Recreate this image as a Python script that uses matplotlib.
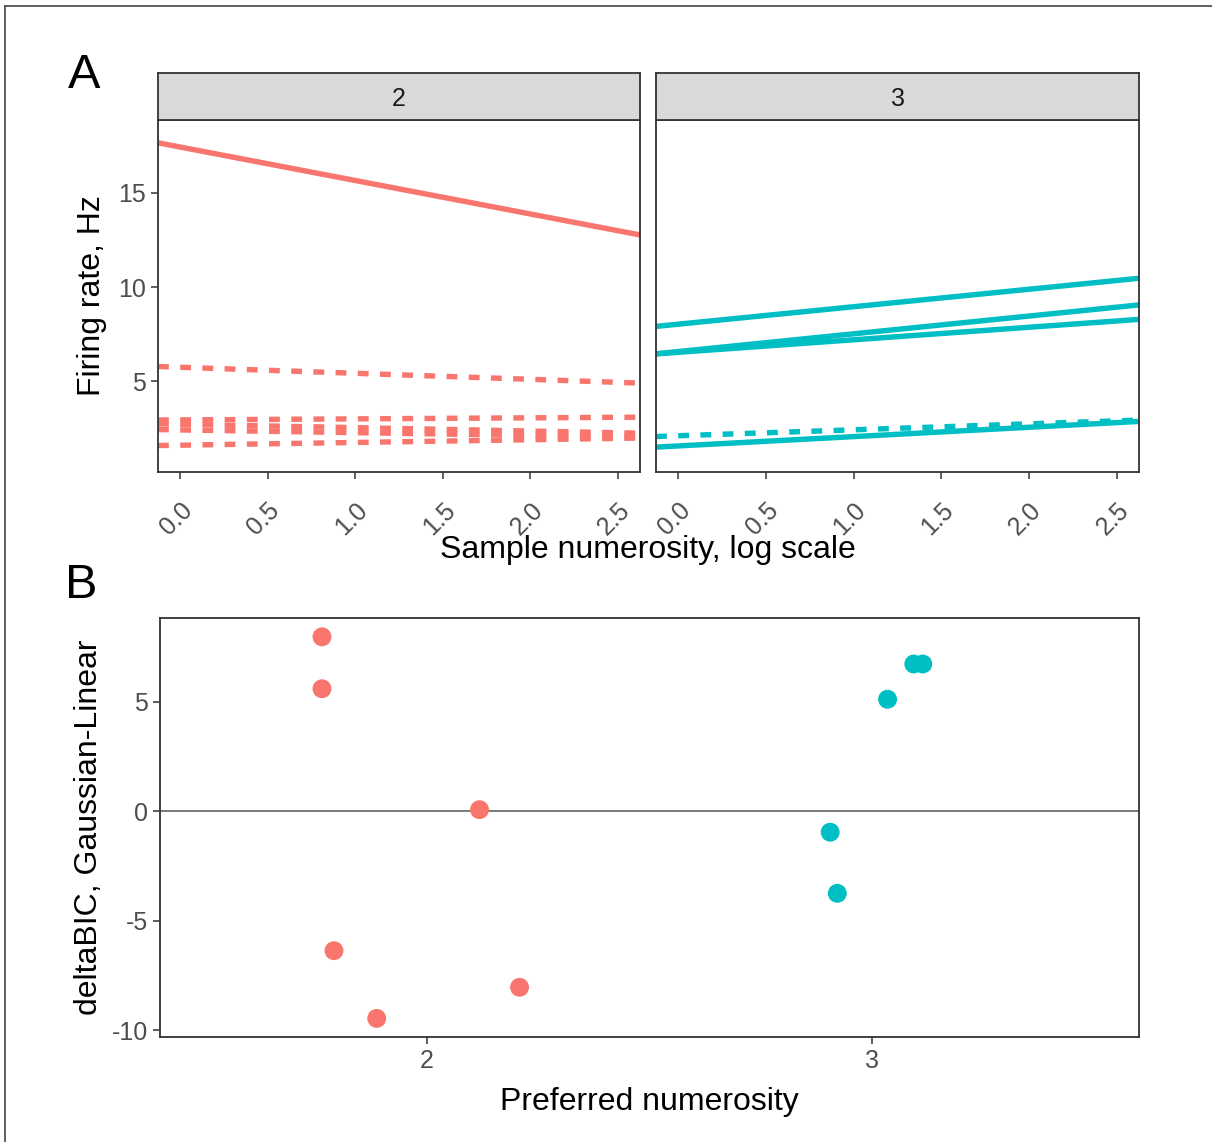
import numpy as np
import matplotlib.pyplot as plt
from matplotlib.lines import Line2D

plt.rcParams['font.family'] = ['Liberation Sans', 'DejaVu Sans']
plt.rcParams['axes.unicode_minus'] = False

RED = '#F8766D'
TEAL = '#00BFC4'

# panel A: linear fits, firing rate vs log sample numerosity
facet_labels = ['2', '3']

pref2_intercept = [17.42, 5.75, 2.96, 2.73, 2.43, 1.62]
pref2_slope = [-1.775, -0.32, 0.055, -0.18, -0.145, 0.145]
pref2_dashed = [False, True, True, True, True, True]

pref3_intercept = [8.03, 6.58, 6.54, 1.58, 2.12]
pref3_slope = [0.927, 0.942, 0.665, 0.495, 0.316]
pref3_dashed = [False, False, False, False, True]

x_ticks = [0.0, 0.5, 1.0, 1.5, 2.0, 2.5]
y_ticks_a = [5, 10, 15]

# panel B: deltaBIC per neuron (x jittered around preferred numerosity)
pref_num_2 = [1.764, 1.764, 2.118, 1.791, 1.887, 2.208]
dbic_2 = [7.97, 5.6, 0.08, -6.36, -9.45, -8.03]
pref_num_3 = [3.094, 3.114, 3.035, 2.906, 2.922]
dbic_3 = [6.73, 6.73, 5.12, -0.95, -3.74]

W, H = 1212, 1142
fig = plt.figure(figsize=(W / 100, H / 100), dpi=100)


def box(l, t, r, b):
    return [l / W, 1 - b / H, (r - l) / W, (b - t) / H]


def style(ax):
    for s in ax.spines.values():
        s.set_color('#333333')
        s.set_linewidth(1.3)
    ax.tick_params(color='#333333', length=5, width=1.1, labelcolor='#4D4D4D',
                   labelsize=18)


panels = [(158, 640, pref2_intercept, pref2_slope, pref2_dashed, RED),
          (656, 1139, pref3_intercept, pref3_slope, pref3_dashed, TEAL)]

for i, (l, r, inter, slope, dashed, col) in enumerate(panels):
    ax = fig.add_axes(box(l, 120, r, 472))
    for a, b, d in zip(inter, slope, dashed):
        ln = ax.axline((0, a), slope=b, color=col, lw=3.9, solid_capstyle='butt')
        if d:
            ln.set_linestyle((0, (2.0, 2.1)))
    ax.set_xlim(-0.125, 2.625)
    ax.set_ylim(0.2, 18.85)
    ax.set_xticks(x_ticks)
    ax.set_xticklabels(['%.1f' % v for v in x_ticks], rotation=45, ha='right',
                       va='top', rotation_mode='anchor')
    ax.set_yticks(y_ticks_a)
    style(ax)
    ax.tick_params(axis='x', pad=14)
    if i == 0:
        ax.set_ylabel('Firing rate, Hz', fontsize=23, labelpad=8)
    else:
        ax.set_yticks([])
        ax.tick_params(axis='y', length=0)

    st = fig.add_axes(box(l, 72.5, r, 120))
    st.set_facecolor('#D9D9D9')
    st.set_xticks([])
    st.set_yticks([])
    for s in st.spines.values():
        s.set_color('#333333')
        s.set_linewidth(1.3)
    st.text(0.5, 0.45, facet_labels[i], ha='center', va='center', fontsize=18,
            color='#1A1A1A', transform=st.transAxes)

fig.text(648 / W, 1 - 550 / H, 'Sample numerosity, log scale', ha='center',
         va='center', fontsize=23)

# panel B
axb = fig.add_axes(box(160, 618, 1139, 1037))
axb.axhline(0, color='#555555', lw=1.1)
axb.scatter(pref_num_2, dbic_2, s=185, color=RED, edgecolors='none', zorder=3)
axb.scatter(pref_num_3, dbic_3, s=185, color=TEAL, edgecolors='none', zorder=3)
axb.set_xlim(1.4, 3.6)
axb.set_ylim(-10.3, 8.83)
axb.set_xticks([2, 3])
axb.set_yticks([-10, -5, 0, 5])
style(axb)
axb.set_xlabel('Preferred numerosity', fontsize=23, labelpad=10)
axb.set_ylabel('deltaBIC, Gaussian-Linear', fontsize=23, labelpad=6)

fig.text(68 / W, 1 - 88 / H, 'A', fontsize=35, ha='left', va='baseline')
fig.text(65 / W, 1 - 598 / H, 'B', fontsize=35, ha='left', va='baseline')

# outer frame (top and left edges visible in the reference)
fig.add_artist(Line2D([5 / W, 5 / W], [0, 1 - 6 / H], color='#444444', lw=1.2))
fig.add_artist(Line2D([5 / W, 1], [1 - 6 / H, 1 - 6 / H], color='#444444', lw=1.2))

fig.savefig('out.png', dpi=100)
